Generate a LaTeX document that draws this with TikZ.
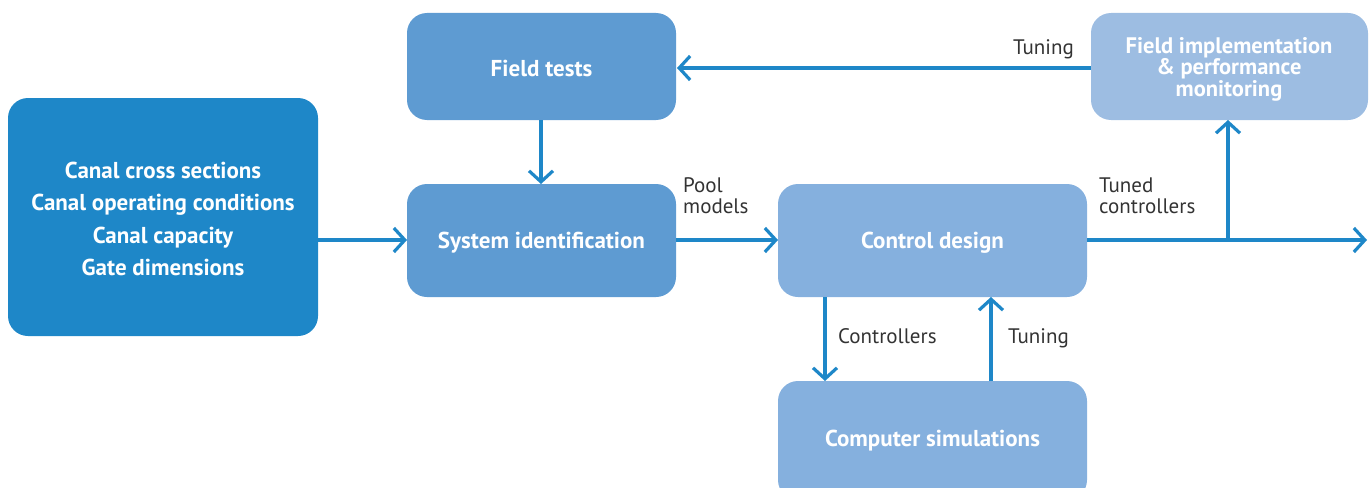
\documentclass[tikz,border=0pt]{standalone}
\usepackage{fontspec}
\setmainfont{PT Sans}
\usetikzlibrary{arrows.meta}
\definecolor{inbox}{HTML}{1E87C8}
\definecolor{midbox}{HTML}{5E9BD2}
\definecolor{lightbox}{HTML}{85B0DE}
\definecolor{palebox}{HTML}{9DBDE2}
\definecolor{flow}{HTML}{1E87C8}
\definecolor{lbl}{HTML}{333333}
\tikzset{
  block/.style={inner sep=0pt, text=white,
    font=\fontsize{23}{32.5}\selectfont\bfseries, align=center},
  flowline/.style={draw=flow, line width=3.2pt,
    -{Straight Barb[length=11pt, width=24pt, line width=3.2pt]}},
  note/.style={text=lbl, font=\fontsize{21}{21}\selectfont, align=left, inner sep=0pt, anchor=base west}
}
\begin{document}
\begin{tikzpicture}[x=1pt, y=-1pt]
\useasboundingbox (0,0) rectangle (1370,487);
% block backgrounds
\fill[inbox, rounded corners=20pt] (8,98) rectangle (318,336);
\fill[midbox, rounded corners=20pt] (407,13) rectangle (676,120);
\fill[midbox, rounded corners=20pt] (407,184) rectangle (676,297);
\fill[lightbox, rounded corners=20pt] (778,184) rectangle (1087,297);
\fill[lightbox, rounded corners=20pt] (778,381) rectangle (1087,500);
\fill[palebox, rounded corners=20pt] (1091,13) rectangle (1368,120);

% block texts
\node[block] (inp) at (163,219) {Canal cross sections\\Canal operating conditions\\Canal capacity\\Gate dimensions};
\node[block] (ft) at (541.5,68) {Field tests};
\node[block] (sid) at (541.5,243) {System identification};
\node[block] (cd) at (932.5,243) {Control design};
\node[block] (cs) at (932.5,441) {Computer simulations};
\node[block, font=\fontsize{22.5}{21.5}\selectfont\bfseries] (fi) at (1229,69) {Field implementation\\\& performance\\monitoring};

% connector ends
\coordinate (inpE) at (318,240);
\coordinate (sidW) at (407,240);
\coordinate (ftS) at (541,120);
\coordinate (sidN) at (541,184);
\coordinate (sidE) at (676,240);
\coordinate (cdW) at (778,240);
\coordinate (cdE) at (1087,240);
\coordinate (branch) at (1228,240);
\coordinate (outE) at (1367,240);
\coordinate (fiS) at (1228,120);
\coordinate (fiW) at (1091,68);
\coordinate (ftE) at (677,68);
\coordinate (cdSL) at (825,297);
\coordinate (csNL) at (825,381);
\coordinate (csNR) at (991,381);
\coordinate (cdSR) at (991,297);

\draw[flowline] (inpE) -- (sidW);
\draw[flowline] (ftS) -- (sidN);
\draw[flowline] (sidE) -- (cdW);
\draw[flowline] (cdE) -- (outE);
\draw[flowline] (branch) -- (fiS);
\draw[flowline] (fiW) -- (ftE);
\draw[flowline] (cdSL) -- (csNL);
\draw[flowline] (csNR) -- (cdSR);

% labels (base anchor sits on the last line)
\node[note] (lpool) at (683,213) {Pool\\models};
\node[note] (ltuned) at (1099,213) {Tuned\\controllers};
\node[note] (ltune1) at (1013,55) {Tuning};
\node[note] (lctrl) at (838,343) {Controllers};
\node[note] (ltune2) at (1008,343) {Tuning};
\end{tikzpicture}
\end{document}
